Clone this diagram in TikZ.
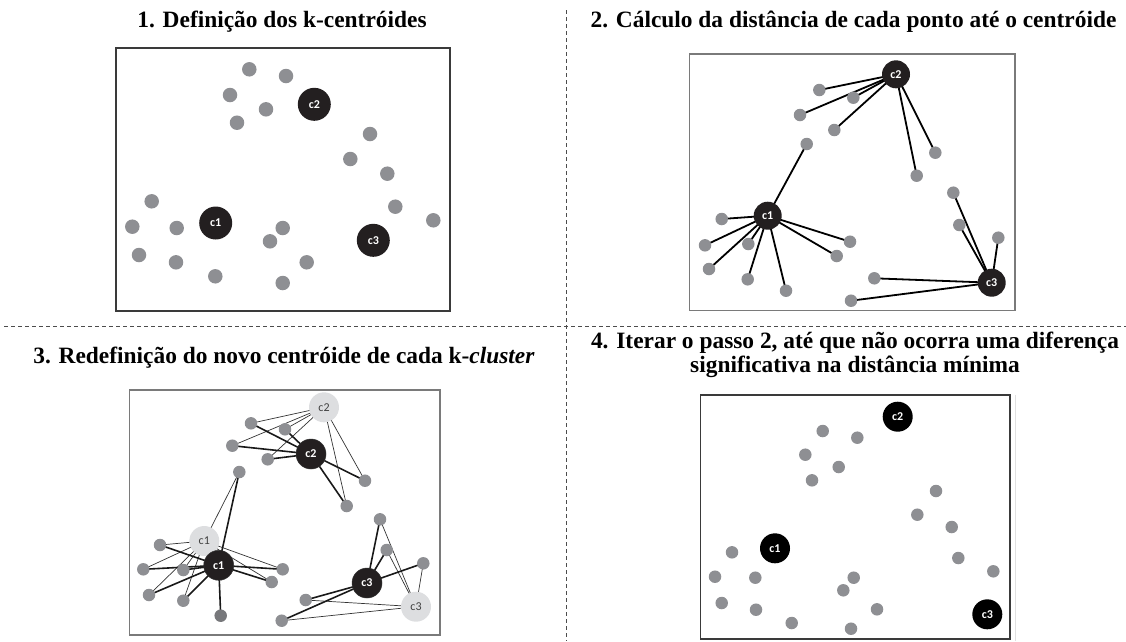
\documentclass[tikz,border=0pt]{standalone}
\usepackage{fontspec}
\setmainfont{Liberation Serif}
\newfontfamily\lblfont{Carlito}
\definecolor{dotgray}{HTML}{8E8F93}
\definecolor{dotdark}{HTML}{77787B}
\definecolor{cdark}{HTML}{231F20}
\definecolor{clight}{HTML}{DDDEE0}
\definecolor{boxgray}{HTML}{7A7A7A}
\definecolor{boxdark}{HTML}{3A3A3A}
\begin{document}
\begin{tikzpicture}[x=1pt,y=-1pt,
  ttl/.style={font=\bfseries\fontsize{23.4}{24}\selectfont, align=center, inner sep=0pt},
  dotA/.style={circle, fill=dotgray, minimum size=14.5pt, inner sep=0pt},
  dotB/.style={circle, fill=dotgray, minimum size=12.5pt, inner sep=0pt},
  cenlbl/.style={font=\lblfont\bfseries\fontsize{12}{12}\selectfont, inner sep=0pt},
  cenA/.style={circle, fill=cdark, text=white, cenlbl, minimum size=33pt},
  cenB/.style={circle, fill=cdark, text=white, cenlbl, minimum size=28pt},
  cenC/.style={circle, fill=cdark, draw=black!80, line width=0.5pt, text=white, cenlbl, minimum size=30pt},
  cenOld/.style={circle, fill=clight, text=black!75, cenlbl, font=\lblfont\fontsize{12}{12}\selectfont, minimum size=30pt},
  cenD/.style={circle, fill=black, text=white, cenlbl, minimum size=30pt},
  link/.style={draw=black, line width=1.8pt},
  thick link/.style={draw=black!90, line width=1.6pt},
  thin link/.style={draw=black!80, line width=0.7pt},
  divider/.style={draw=black!70, line width=0.9pt, dash pattern=on 4pt off 3pt},
  panelbox/.style={draw=boxdark, line width=1.2pt},
  panelboxg/.style={draw=boxgray, line width=1.5pt}
]
\useasboundingbox (0,0) rectangle (1126,641);

% dividers
\coordinate (vtop) at (566,10);
\coordinate (vbot) at (566,641);
\coordinate (hl) at (4,326);
\coordinate (hr) at (1126,326);
\draw[divider] (vtop) -- (vbot);
\draw[divider] (hl) -- (hr);

% titles
\node[ttl] (t1) at (282,22) {1. Definição dos k-centróides};
\node[ttl] (t2) at (853.5,22) {2. Cálculo da distância de cada ponto até o centróide};
\node[ttl] (t3) at (284,358) {3. Redefinição do novo centróide de cada k-\textit{cluster}};
\node[ttl] (t4) at (855,355) {4. Iterar o passo 2, até que não ocorra uma diferença\\significativa na distância mínima};

% ================= Panel 1 =================
\draw[panelbox] (116,48) rectangle (450,311);
\foreach \n/\x/\y in {1/249.3/69.3, 2/286/76, 3/230/95, 4/266/109.3, 5/237/122.7,
  6/370/134, 7/350.3/159, 8/387.3/173.7, 9/395.3/206.7, 10/433.3/220.3,
  11/151.7/201.3, 12/132.3/226.7, 13/176.7/228, 14/139/255, 15/176/262.3,
  16/215.3/276.3, 17/282.7/228, 18/270/241.3, 19/306.7/262.3, 20/282.7/283}
  \node[dotA] (A\n) at (\x,\y) {};
\node[cenA] (Ac1) at (215.7,223) {c1};
\node[cenA] (Ac2) at (314.3,104.3) {c2};
\node[cenA] (Ac3) at (373.3,240.3) {c3};

% ================= Panel 2 =================
\draw[panelboxg] (689.3,54) rectangle (1015,310.7);
\foreach \n/\x/\y in {1/819.3/90, 2/853.3/97.7, 3/800/115, 4/834.3/130, 5/806.7/144,
  6/935.3/152.7, 7/916.7/175.7, 8/953.3/192.7, 9/959.3/225, 10/998.3/237.7,
  11/721.7/219, 12/705/245.3, 13/748.3/244, 14/709/269, 15/747.7/279.3,
  16/786/290.7, 17/850/241.7, 18/836.7/256, 19/874.3/278.3, 20/851/300.7}
  \coordinate (Bp\n) at (\x,\y);
\coordinate (Bq1) at (767.7,215.7);
\coordinate (Bq2) at (896,74.3);
\coordinate (Bq3) at (991.7,282.7);
\foreach \n in {1,2,3,4,6,7} \draw[link] (Bq2) -- (Bp\n);
\foreach \n in {5,11,12,13,14,15,16,17,18} \draw[link] (Bq1) -- (Bp\n);
\foreach \n in {8,9,10,19,20} \draw[link] (Bq3) -- (Bp\n);
\foreach \n in {1,...,20} \node[dotB] (B\n) at (Bp\n) {};
\node[cenB] (Bc1) at (Bq1) {c1};
\node[cenB] (Bc2) at (Bq2) {c2};
\node[cenB] (Bc3) at (Bq3) {c3};

% ================= Panel 3 =================
\draw[panelboxg] (129.3,390) rectangle (440,635);
\foreach \n/\x/\y in {1/251/423.3, 2/285/429.3, 3/232.3/445.7, 4/267.7/459.3, 5/365/480.7,
  6/346.7/506, 7/239.3/472, 8/160/545, 9/143.3/569.3, 10/183.3/570,
  11/149/595, 12/183.3/600.7, 13/220.7/615.7, 14/282.7/569.3, 15/271.7/582,
  16/380/519.3, 17/386.7/550, 18/423.3/563.3, 19/305.7/600, 20/281.7/620.7}
  \coordinate (Cp\n) at (\x,\y);
\coordinate (Co1) at (204.3,541);
\coordinate (Co2) at (324,407.3);
\coordinate (Co3) at (416,606.7);
\coordinate (Cn1) at (218.7,565.3);
\coordinate (Cn2) at (311,454);
\coordinate (Cn3) at (367,583);
\foreach \n in {1,...,6} \draw[thin link] (Co2) -- (Cp\n);
\foreach \n in {7,8,9,10,11,12,14,15} \draw[thin link] (Co1) -- (Cp\n);
\foreach \n in {16,...,20} \draw[thin link] (Co3) -- (Cp\n);
\foreach \n in {1,...,6} \draw[thick link] (Cn2) -- (Cp\n);
\foreach \n in {7,...,15} \draw[thick link] (Cn1) -- (Cp\n);
\foreach \n in {16,...,20} \draw[thick link] (Cn3) -- (Cp\n);
\foreach \n in {1,...,12,14,15,16,17,18,19,20} \node[dotB] (C\n) at (Cp\n) {};
\node[dotB, fill=dotdark] (C13) at (Cp13) {};
\node[cenOld] (Cc1o) at (Co1) {c1};
\node[cenOld] (Cc2o) at (Co2) {c2};
\node[cenOld] (Cc3o) at (Co3) {c3};
\node[cenC] (Cc1) at (Cn1) {c1};
\node[cenC] (Cc2) at (Cn2) {c2};
\node[cenC] (Cc3) at (Cn3) {c3};

% ================= Panel 4 =================
\draw[panelbox] (700.7,395) rectangle (1010,639);
\coordinate (faintT) at (1015.5,395);
\coordinate (faintB) at (1015.5,641);
\draw[black!12, line width=0.8pt] (faintT) -- (faintB);
\foreach \n/\x/\y in {1/822.7/431, 2/857.3/437.7, 3/805.3/454.7, 4/838.7/467, 5/812/480.3,
  6/936/491, 7/917.3/514.7, 8/951.7/527, 9/958.3/558, 10/993.3/571.3,
  11/732/552.3, 12/715/576.7, 13/755.3/577.7, 14/721.7/603, 15/756/609.7,
  16/791.7/623, 17/853.7/577.7, 18/843.3/590.3, 19/877/609.3, 20/851/628.7}
  \node[dotB] (D\n) at (\x,\y) {};
\node[cenD] (Dc1) at (775,548.3) {c1};
\node[cenD] (Dc2) at (897.7,416.7) {c2};
\node[cenD] (Dc3) at (987.3,614.3) {c3};
\end{tikzpicture}
\end{document}
